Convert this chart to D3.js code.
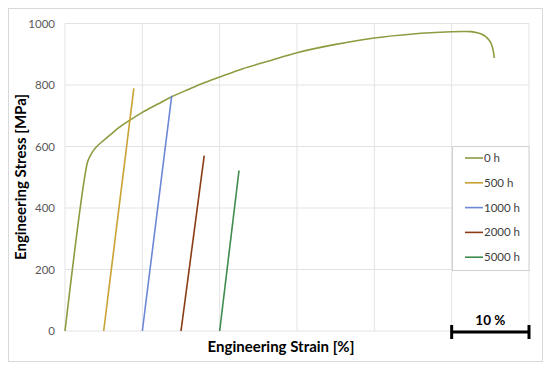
<!DOCTYPE html>
<html><head><meta charset="utf-8">
<script src="https://cdn.jsdelivr.net/npm/d3@7"></script>
<style>body{margin:0;background:#fff}svg{display:block}</style>
</head><body>
<svg id="c" width="550" height="370"></svg>
<script>
const yTicks = [0, 200, 400, 600, 800, 1000];
const xGrid = [0, 10, 20, 30, 40, 50, 60];
const seriesNames = ["0 h", "500 h", "1000 h", "2000 h", "5000 h"];
const seriesColors = ["#8c9c40", "#c9a232", "#6d88d6", "#8a3c14", "#3f8b4c"];
const s0h = [[0,0],[2.9,548],[3.2,566],[3.6,584],[4.1,600],[5,620],[5.8,637],[7,662],[8.4,686],[10,711],[12,738],[13.8,762],[16,786],[18,807],[20,826],[23,853],[26.5,879],[30,905],[35,932],[40,953],[45,966],[50,973],[51.5,974],[52.5,973.5],[53.3,970],[53.9,965],[54.4,957],[54.8,947],[55.1,935],[55.3,920],[55.45,900],[55.5,888]];
const s500h = [[5.0,0],[8.9,789]];
const s1000h = [[10.0,0],[13.8,765]];
const s2000h = [[15.0,0],[18.0,570]];
const s5000h = [[20.0,0],[22.5,522]];
const allSeries = [s0h, s500h, s1000h, s2000h, s5000h];

const svg = d3.select("#c");
const L = 65, R = 529, T = 23.5, B = 331;
const x = d3.scaleLinear().domain([0, 60]).range([L, R]);
const y = d3.scaleLinear().domain([0, 1000]).range([B, T]);

svg.append("rect").attr("x",8.5).attr("y",8.5).attr("width",534).attr("height",353)
  .attr("fill","#fff").attr("stroke","#d9d9d9");

const g = svg.append("g");
g.selectAll(".hg").data(yTicks).join("line")
  .attr("x1",L).attr("x2",R).attr("y1",d=>y(d)).attr("y2",d=>y(d))
  .attr("stroke","#e3e3e3").attr("stroke-width",1);
g.selectAll(".vg").data(xGrid).join("line")
  .attr("x1",d=>x(d)).attr("x2",d=>x(d)).attr("y1",T).attr("y2",B)
  .attr("stroke","#e3e3e3").attr("stroke-width",1);

const yAxis = d3.axisLeft(y).tickValues(yTicks).tickFormat(d3.format("d")).tickSize(0).tickPadding(10);
const ya = svg.append("g").attr("transform",`translate(${L},0)`).call(yAxis);
ya.select(".domain").remove();
ya.selectAll("text").attr("fill","#595959").attr("font-family","Lato, 'Open Sans', sans-serif").attr("font-size","11.5px");

const line = d3.line().x(d=>x(d[0])).y(d=>y(d[1])).curve(d3.curveCatmullRom.alpha(0.5));
allSeries.forEach((s,i)=>{
  svg.append("path").datum(s).attr("d",line).attr("fill","none")
    .attr("stroke",seriesColors[i]).attr("stroke-width",1.6).attr("stroke-linejoin","round");
});

// legend
const lg = svg.append("g");
lg.append("rect").attr("x",452.5).attr("y",146.5).attr("width",76.5).attr("height",124)
  .attr("fill","#fff").attr("stroke","#d0d0d0");
seriesNames.forEach((n,i)=>{
  const yy = 158 + i*24.8;
  lg.append("line").attr("x1",465).attr("x2",483).attr("y1",yy).attr("y2",yy)
    .attr("stroke",seriesColors[i]).attr("stroke-width",1.6);
  lg.append("text").attr("x",484).attr("y",yy+4).text(n)
    .attr("font-family","Lato, 'Open Sans', sans-serif").attr("font-size","11.5px").attr("fill","#404040");
});

// scale bar
const sb = svg.append("g").attr("stroke","#000").attr("stroke-width",3);
sb.append("line").attr("x1",x(50)).attr("x2",x(60)).attr("y1",332).attr("y2",332);
sb.append("line").attr("x1",x(50)).attr("x2",x(50)).attr("y1",325).attr("y2",339);
sb.append("line").attr("x1",x(60)).attr("x2",x(60)).attr("y1",325).attr("y2",339);
svg.append("text").attr("x",(x(50)+x(60))/2).attr("y",325).attr("text-anchor","middle")
  .attr("font-family","Lato, 'Open Sans', sans-serif").attr("font-weight","bold").attr("font-size","13.5px").text("10 %");

svg.append("text").attr("x",281).attr("y",352).attr("text-anchor","middle")
  .attr("font-family","Lato, 'Open Sans', sans-serif").attr("font-weight","bold").attr("font-size","15px")
  .text("Engineering Strain [%]");
svg.append("text").attr("transform","translate(26,177) rotate(-90)").attr("text-anchor","middle")
  .attr("font-family","Lato, 'Open Sans', sans-serif").attr("font-weight","bold").attr("font-size","15px")
  .text("Engineering Stress [MPa]");
</script>
</body></html>
